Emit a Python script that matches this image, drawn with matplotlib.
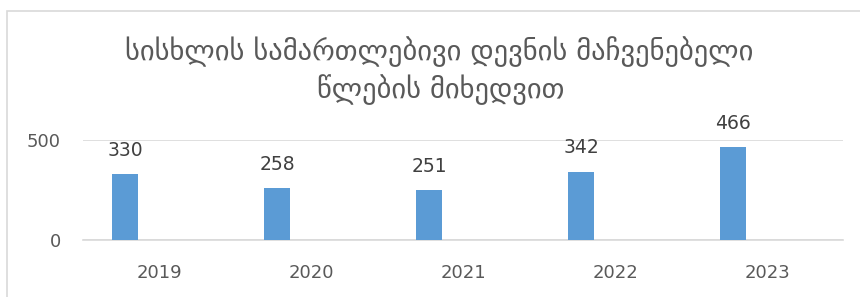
import matplotlib
matplotlib.use("Agg")
import matplotlib.pyplot as plt
from matplotlib.patches import Rectangle
import numpy as np

# Chart data
years = ["2019", "2020", "2021", "2022", "2023"]
values = [330, 258, 251, 342, 466]
title_line1 = "სისხლის სამართლებივი დევნის მაჩვენებელი"
title_line2 = "წლების მიხედვით"

BAR_COLOR = "#5b9bd5"
TEXT_COLOR = "#595959"
GRID_COLOR = "#d9d9d9"

fig = plt.figure(figsize=(8.6, 2.97), dpi=100)
ax = fig.add_axes([83 / 860, 1 - 240 / 297, 760 / 860, 100 / 297])

# Outer chart border (cut off at right and bottom as in the source)
fig.patches.append(Rectangle((7 / 860, -0.1), 1.2, 1 - 11 / 297 + 0.1,
                             transform=fig.transFigure, fill=False,
                             edgecolor=GRID_COLOR, linewidth=1.2))

x = np.arange(len(years))
offset = -34 / 152
width = 26 / 152
bars = ax.bar(x + offset, values, width=width, color=BAR_COLOR, zorder=3)

for xi, v in zip(x, values):
    ax.annotate(str(v), (xi + offset, v), xytext=(0, 17), textcoords="offset points",
                ha="center", va="center", fontsize=13.5, color="#404040")

ax.set_xlim(-0.5, len(years) - 0.5)
ax.set_ylim(0, 500)
ax.set_yticks([0, 500])
ax.set_xticks(x)
ax.set_xticklabels(years)
ax.tick_params(axis="both", length=0, labelsize=13, colors=TEXT_COLOR)
ax.tick_params(axis="y", pad=16)
ax.tick_params(axis="x", pad=17)
ax.grid(axis="y", color=GRID_COLOR, linewidth=1.2, zorder=0)
for side in ["left", "right", "top"]:
    ax.spines[side].set_visible(False)
ax.spines["bottom"].set_color(GRID_COLOR)
ax.spines["bottom"].set_linewidth(1.2)

# Title, two lines
fig.text(439 / 860, 1 - 52 / 297, title_line1, ha="center", va="center",
         fontsize=20.5, color=TEXT_COLOR, family="DejaVu Sans")
fig.text(441 / 860, 1 - 90 / 297, title_line2, ha="center", va="center",
         fontsize=20.5, color=TEXT_COLOR, family="DejaVu Sans")

fig.savefig("out.png", dpi=100)
